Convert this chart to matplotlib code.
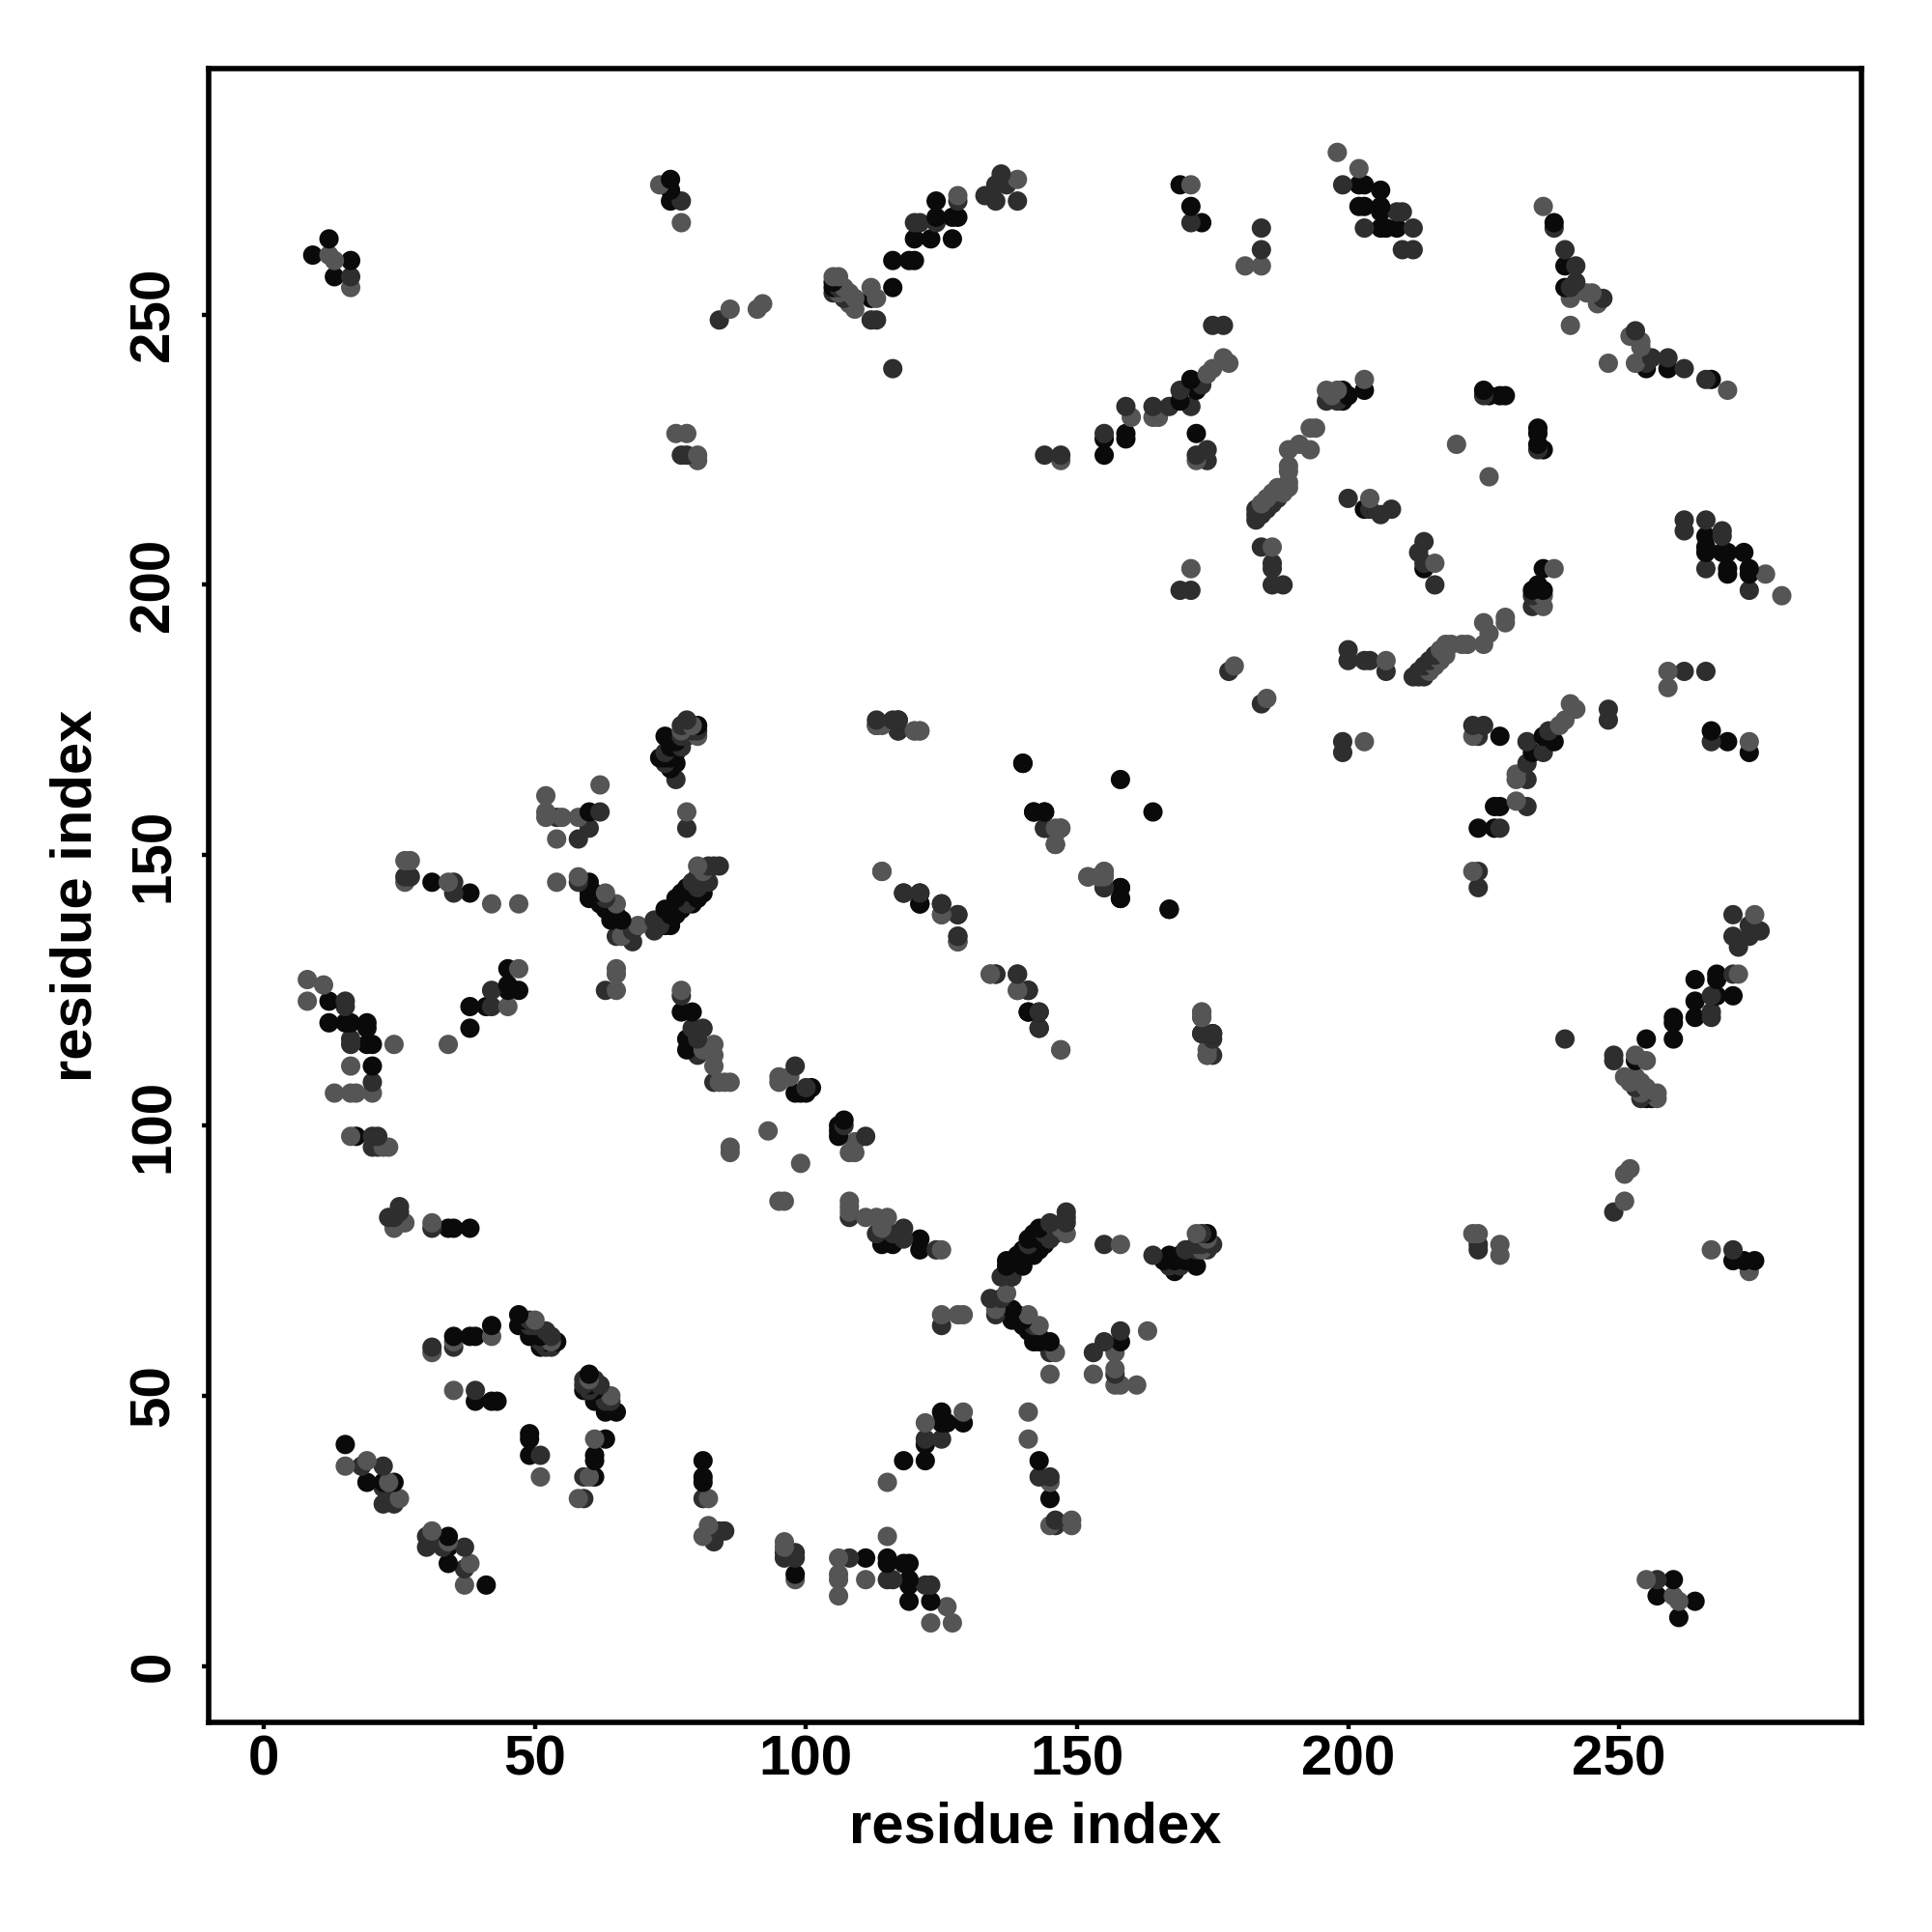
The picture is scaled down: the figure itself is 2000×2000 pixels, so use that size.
"""Residue contact map, drawn from the upper triangle and mirrored across the diagonal."""
import numpy as np
import matplotlib
matplotlib.use("Agg")
import matplotlib.pyplot as plt

plt.rcParams["font.family"] = ["Liberation Sans", "DejaVu Sans"]
plt.rcParams["font.weight"] = "bold"

# (i, j) residue pairs with i < j, one list per grey level
black_pairs = [
    (9, 261), (12, 264), (13, 257), (16, 260),
    (75, 275), (75, 273), (75, 271),
    (105, 255), (105, 256), (112, 253), (116, 255), (116, 260), (119, 260), (120, 260), (120, 264),
    (123, 264), (124, 268), (124, 271), (127, 264), (127, 268), (128, 268),
    (169, 274), (171, 270), (173, 267),
    (202, 274), (203, 274), (202, 270), (203, 270), (206, 273), (206, 270), (206, 269),
    (206, 266), (207, 266), (209, 266),
    (238, 267), (240, 259), (240, 255),
    (155, 224), (155, 227), (159, 227), (159, 228), (169, 234), (171, 238), (172, 236), (172, 228),
    (199, 236), (200, 235), (199, 234), (203, 236), (203, 214), (225, 236), (228, 235), (229, 235),
    (226, 235),
    (12, 123), (12, 119), (15, 119), (16, 119), (19, 119), (19, 118), (19, 115), (20, 115),
    (20, 111), (17, 98),
    (34, 81), (35, 81), (38, 81),
    (31, 145), (38, 143),
    (38, 118), (38, 122), (41, 122), (45, 129), (45, 126), (47, 125), (45, 125),
    (60, 158), (60, 145), (60, 143), (60, 142), (61, 143), (61, 142), (62, 142), (62, 141),
    (63, 140), (64, 140), (65, 139), (64, 139), (64, 138),
    (66, 138), (74, 137), (74, 140), (75, 137), (75, 139), (76, 139), (76, 142), (77, 140),
    (77, 143), (79, 143), (79, 141), (78, 144), (80, 142), (81, 143),
    (73, 168), (74, 168), (75, 168), (75, 171), (76, 167), (76, 169), (76, 171), (80, 174), (75, 166),
    (75, 170), (76, 170), (74, 172),
    (77, 121), (79, 121), (78, 116), (78, 114),
    (98, 106), (99, 106), (100, 106), (101, 107),
    (140, 167), (158, 164), (142, 158), (144, 158), (158, 144), (158, 142), (167, 140),
    (121, 141), (141, 125), (141, 121), (143, 121), (143, 118), (175, 117),
    (15, 41), (19, 34), (22, 34), (24, 34),
    (35, 61), (38, 61), (39, 61), (42, 63), (47, 65), (47, 63), (48, 64), (48, 63), (49, 61),
    (51, 61), (52, 60), (51, 59), (54, 60),
    (39, 49), (42, 49), (43, 49),
]
dark_pairs = [
    (16, 257), (77, 271), (84, 249), (105, 254), (106, 255), (107, 253), (112, 249), (113, 249),
    (120, 267), (121, 267), (124, 267), (128, 271), (133, 272), (135, 274), (135, 271),
    (136, 276), (137, 274), (139, 271), (116, 240),
    (171, 267), (184, 266), (184, 262),
    (199, 274), (203, 266), (209, 269), (210, 269), (212, 266), (210, 262), (212, 262),
    (238, 266), (240, 262), (242, 259), (241, 255), (242, 256), (247, 253),
    (155, 228), (159, 233), (164, 233), (167, 233), (169, 236), (171, 233), (173, 237),
    (175, 248), (177, 248),
    (144, 224), (147, 224), (172, 224), (174, 225), (174, 223),
    (183, 212), (183, 214), (183, 213), (184, 213), (185, 214), (186, 215), (187, 216),
    (196, 234), (198, 234), (178, 184),
    (184, 207), (186, 204), (186, 203), (186, 200), (188, 200), (169, 199), (171, 199),
    (200, 216), (204, 214), (206, 213), (208, 214), (225, 235),
    (15, 123), (15, 122), (16, 116), (16, 115), (20, 108), (20, 98), (21, 98), (20, 96), (21, 96),
    (25, 85), (25, 84), (23, 83), (24, 83), (31, 81),
    (26, 146), (27, 146), (35, 145), (35, 143), (42, 122), (42, 125),
    (54, 157), (58, 153), (60, 155), (62, 158),
    (58, 145), (63, 142), (65, 135), (68, 134), (68, 136), (72, 136), (73, 137), (72, 138), (78, 141),
    (79, 145), (81, 146), (80, 146), (80, 144), (82, 148), (82, 145), (83, 148), (84, 148),
    (63, 125), (78, 155), (76, 164),
    (77, 172), (77, 170), (78, 172), (79, 173), (74, 167), (74, 169), (77, 174), (78, 175),
    (80, 173), (78, 173),
    (77, 124), (79, 118), (81, 118), (80, 116), (80, 113), (83, 108),
    (98, 111), (100, 107),
    (117, 175), (116, 175), (117, 173),
    (144, 155), (146, 152), (155, 144),
    (118, 143), (121, 143), (125, 141), (128, 139), (128, 135), (134, 128), (135, 128), (139, 128),
    (173, 117), (174, 113), (175, 113),
    (18, 37), (22, 37), (22, 33), (22, 30), (24, 30), (23, 31),
    (31, 59), (35, 59), (49, 64), (49, 63), (50, 63), (51, 60), (52, 62), (53, 61), (53, 59), (52, 59),
    (39, 51),
    (77, 224), (78, 224),
]
mid_pairs = [
    (12, 261), (13, 260), (16, 255),
    (73, 274), (77, 267),
    (86, 251), (91, 251), (92, 252),
    (105, 257), (106, 257), (106, 254), (107, 255), (108, 254), (108, 252), (109, 253), (109, 251),
    (112, 255), (113, 253),
    (128, 272), (139, 275),
    (171, 274), (181, 259), (184, 259),
    (198, 280), (202, 277),
    (236, 270), (241, 253), (244, 254), (245, 254), (246, 252), (241, 248),
    (160, 231), (164, 231), (165, 231), (174, 239), (175, 240), (177, 242), (178, 241),
    (147, 223), (172, 223),
    (184, 215), (185, 216), (186, 217), (187, 218), (188, 217), (188, 218), (189, 218), (189, 219),
    (189, 221), (189, 222), (189, 225), (191, 226), (193, 225), (193, 229), (194, 229), (196, 236),
    (197, 235), (198, 236),
    (186, 207), (171, 203), (204, 216), (203, 238), (220, 226), (179, 185),
    (8, 127), (11, 126), (8, 123), (24, 115), (16, 111), (13, 106), (16, 106), (17, 106),
    (20, 106), (16, 98), (22, 96), (23, 96),
    (24, 81), (26, 82), (31, 82),
    (26, 149), (27, 149), (26, 145), (34, 145), (42, 141), (47, 141),
    (34, 115), (45, 122), (47, 129),
    (52, 161), (52, 158), (52, 157), (55, 157), (54, 153), (58, 157), (62, 163),
    (54, 145), (58, 146), (63, 143), (65, 141), (69, 137), (66, 135), (80, 148), (81, 147),
    (65, 129), (65, 128), (65, 125), (78, 158),
    (77, 173), (80, 172), (79, 174),
    (77, 125), (81, 114), (83, 115), (83, 113), (83, 111), (84, 108), (85, 108), (86, 108),
    (95, 109), (95, 108), (97, 109),
    (93, 99), (86, 96), (86, 95),
    (113, 174), (114, 174), (120, 173), (121, 173),
    (147, 155), (146, 154), (152, 146), (155, 146), (155, 147),
    (114, 147), (125, 139), (128, 134), (139, 125), (147, 114),
    (173, 121), (173, 120),
    (15, 37), (19, 38), (23, 34), (25, 31),
    (31, 58), (35, 60), (42, 61), (50, 64), (53, 60),
    (35, 51),
    (76, 228), (78, 228), (80, 223), (80, 224),
]
ticks = [0, 50, 100, 150, 200, 250]

fig = plt.figure(figsize=(10, 10), dpi=200)
ax = fig.add_axes([0.108, 0.1085, 0.8555, 0.856])

xs, ys, shades = [], [], []
for pairs, shade in [(black_pairs, "#0a0a0a"), (dark_pairs, "#2e2e2e"), (mid_pairs, "#555555")]:
    i, j = np.array(pairs).T
    # the map is symmetric, so each contact shows up on both sides of the diagonal
    xs.extend(np.r_[i, j])
    ys.extend(np.r_[j, i])
    shades.extend([shade] * (2 * len(pairs)))
xs, ys, shades = np.array(xs), np.array(ys), np.array(shades)

# overlaps in the original are mixed, not layered by grey level
order = np.argsort(ys, kind="stable")
ax.scatter(xs[order], ys[order], s=52, c=shades[order], linewidths=0, zorder=3)

ax.set_xlim(-10.2, 294.7)
ax.set_ylim(-10.4, 295.5)
ax.set_xticks(ticks)
ax.set_yticks(ticks)
ax.tick_params(length=2.5, width=1.6, labelsize=21)
ax.tick_params(axis="x", pad=2)
ax.tick_params(axis="y", pad=8)
plt.setp(ax.get_yticklabels(), rotation=90, va="center")
for spine in ax.spines.values():
    spine.set_linewidth(2.0)

ax.set_xlabel("residue index", fontsize=21.5, fontweight="bold", va="center")
ax.set_ylabel("residue index", fontsize=21.5, fontweight="bold", va="center")
ax.xaxis.set_label_coords(0.5, -0.0637)
ax.yaxis.set_label_coords(-0.080, 0.5)

fig.savefig("out.png", dpi=200)
